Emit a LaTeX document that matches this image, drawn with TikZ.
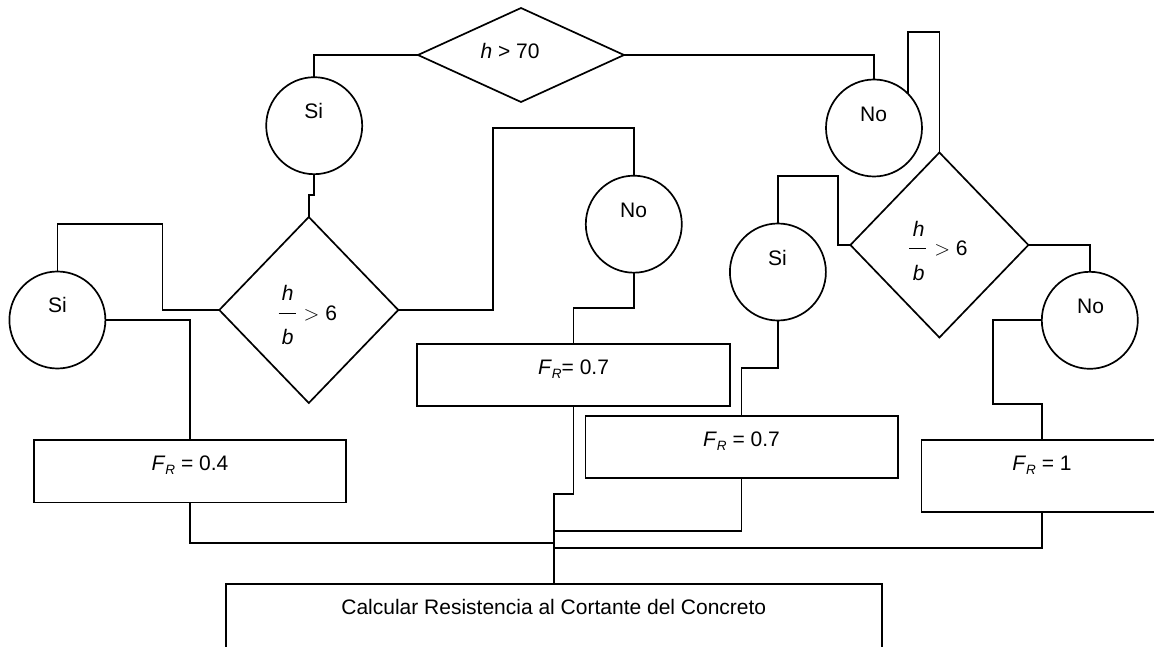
\documentclass[tikz,border=0pt]{standalone}
\usepackage{fontspec}
\setmainfont{Liberation Sans}
\usetikzlibrary{shapes.geometric}
\tikzset{
  ln/.style={line width=1.7pt, line join=miter},
  dia/.style={draw, diamond, line width=1.7pt, inner sep=0pt, outer sep=0pt},
  circ/.style={draw, ellipse, line width=1.7pt, inner sep=0pt, outer sep=0pt, minimum width=96pt, minimum height=97pt},
  boxx/.style={draw, rectangle, line width=1.7pt, inner sep=0pt, outer sep=0pt},
  txt/.style={anchor=base, inner sep=0pt, font=\fontsize{21}{25}\selectfont},
  fbar/.style={line width=1pt},
}
\newcommand{\myFR}{\textit{F}\raisebox{-4pt}{\fontsize{13.5}{14}\selectfont\itshape R}}
\begin{document}
\begin{tikzpicture}[x=1pt, y=-1pt]
\useasboundingbox (0,0) rectangle (1154,647);
\clip (0,0) rectangle (1154,647);
\fill[white] (0,0) rectangle (1154,647);

% shapes
\node[dia, minimum width=206pt, minimum height=94pt] (top) at (521,55) {};
\node[circ] (si1) at (314.2,125.7) {};
\node[dia, minimum width=179pt, minimum height=186pt] (d2) at (308.8,310) {};
\node[circ] (si2) at (57.4,320) {};
\node[boxx, minimum width=312.6pt, minimum height=62.3pt] (b04) at (190,471.2) {};
\node[circ] (no1) at (633.8,224.2) {};
\node[boxx, minimum width=312.9pt, minimum height=62pt] (b07a) at (573.6,375) {};
\node[circ] (no2) at (874,128) {};
\node[dia, minimum width=178pt, minimum height=185pt] (d3) at (939.4,245) {};
\node[circ] (si3) at (777.9,272) {};
\node[boxx, minimum width=312.3pt, minimum height=62pt] (b07b) at (741.6,447) {};
\node[circ] (no3) at (1089.8,320.3) {};
\node[boxx, minimum width=241.2pt, minimum height=71.7pt] (b1) at (1042,475.9) {};
\node[boxx, minimum width=656.2pt, minimum height=136pt] (bot) at (553.9,652) {};

% texts
\node[txt] (topt) at (510,58.2) {\textit{h} > 70};
\node[txt] (si1t) at (313.8,118.5) {Si};
\node[txt] (d2h) at (287.8,300.8) {\textit{h}};
\node[txt] (d2g) at (320.4,320.5) {$>$ 6};
\node[txt] (d2b) at (287.8,344.8) {\textit{b}};
\draw[fbar] (278.6,313.3) -- (295.8,313.3);
\node[txt] (si2t) at (57.4,312.5) {Si};
\node[txt] (b04t) at (190,470.8) {\myFR\ = 0.4};
\node[txt] (no1t) at (633.6,217.5) {No};
\node[txt] (b07at) at (573.6,374.2) {\myFR= 0.7};
\node[txt] (no2t) at (873.6,121.8) {No};
\node[txt] (d3h) at (918.7,236.8) {\textit{h}};
\node[txt] (d3g) at (951,255.8) {$>$ 6};
\node[txt] (d3b) at (918.7,280.2) {\textit{b}};
\draw[fbar] (909.3,248.3) -- (926.3,248.3);
\node[txt] (si3t) at (777.5,265.8) {Si};
\node[txt] (b07bt) at (741.5,446.8) {\myFR\ = 0.7};
\node[txt] (no3t) at (1090.5,313.5) {No};
\node[txt] (b1t) at (1042,470.8) {\myFR\ = 1};
\node[txt] (bott) at (553.8,614.2) {Calcular Resistencia al Cortante del Concreto};

% junction coordinates
\coordinate (j1) at (553.8,543);
\coordinate (j2) at (553.8,530.7);
\coordinate (j3) at (553.8,547.7);

% connectors
\draw[ln] (top.west) -| (si1.north);
\draw[ln] (si1.south) -- ++(0,21) -| (d2.north);
\draw[ln] (d2.west) -| ++(-56.7,-86) -| (si2.north);
\draw[ln] (si2.east) -| (b04.north);
\draw[ln] (b04.south) |- (j1);
\draw[ln] (d2.east) -| ++(94.5,-182.3) -| (no1.north);
\draw[ln] (no1.south) -- ++(0,35.6) -| (b07a.north);
\draw[ln] (b07a.south) -- ++(0,88.3) -| (bot.north);
\draw[ln] (top.east) -| (no2.north);
\draw[ln] (no2.north east) -- ++(0,-61.7) -| (d3.north);
\draw[ln] (d3.west) -| ++(-12.6,-69.3) -| (si3.north);
\draw[ln] (si3.south) -- ++(0,47.3) -| (b07b.north);
\draw[ln] (b07b.south) |- (j2);
\draw[ln] (d3.east) -| (no3.north);
\draw[ln] (no3.west) -| ++(-48.7,83.7) -| (b1.north);
\draw[ln] (b1.south) |- (j3);
\end{tikzpicture}
\end{document}
